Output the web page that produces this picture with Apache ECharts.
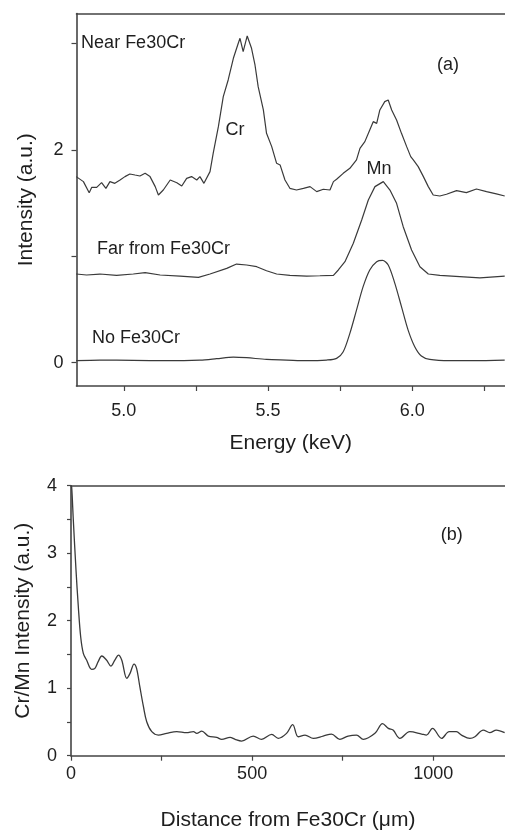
<!DOCTYPE html>
<html>
<head>
<meta charset="utf-8">
<script src="https://cdn.jsdelivr.net/npm/echarts@6/dist/echarts.min.js"></script>
<style>
html,body{margin:0;padding:0;background:#fff;}
#chart{width:505px;height:832px;}
</style>
</head>
<body>
<div id="chart"></div>
<script>
// ---- Panel (a): EDS spectra ----
const nearEnergy = [4.835,4.860,4.880,4.889,4.906,4.923,4.938,4.952,4.969,4.987,5.004,5.021,5.039,5.056,5.074,5.091,5.109,5.120,5.137,5.161,5.184,5.201,5.218,5.235,5.253,5.264,5.278,5.299,5.310,5.328,5.345,5.362,5.380,5.397,5.403,5.414,5.428,5.443,5.455,5.466,5.484,5.495,5.513,5.530,5.542,5.559,5.576,5.599,5.623,5.646,5.669,5.692,5.715,5.727,5.738,5.761,5.784,5.807,5.819,5.836,5.853,5.865,5.877,5.888,5.905,5.917,5.929,5.946,5.963,5.981,5.995,6.004,6.021,6.039,6.056,6.073,6.096,6.119,6.154,6.188,6.223,6.258,6.292,6.321];
const nearIntensity = [1.750,1.703,1.599,1.649,1.649,1.693,1.640,1.703,1.687,1.718,1.750,1.775,1.765,1.756,1.781,1.750,1.656,1.577,1.624,1.718,1.693,1.662,1.734,1.750,1.718,1.750,1.687,1.797,1.969,2.220,2.502,2.659,2.863,3.004,3.051,2.926,3.073,2.957,2.800,2.596,2.377,2.157,2.032,1.875,1.860,1.718,1.640,1.624,1.640,1.656,1.609,1.631,1.624,1.703,1.725,1.781,1.828,1.907,2.016,2.079,2.189,2.267,2.251,2.377,2.455,2.471,2.377,2.283,2.157,2.032,1.938,1.907,1.844,1.750,1.656,1.577,1.568,1.584,1.618,1.599,1.634,1.609,1.587,1.568];

const farEnergy = [4.835,4.871,4.917,4.975,5.033,5.074,5.126,5.195,5.259,5.299,5.357,5.391,5.426,5.461,5.495,5.530,5.576,5.634,5.680,5.727,5.744,5.767,5.796,5.825,5.848,5.871,5.900,5.923,5.946,5.969,5.998,6.027,6.056,6.096,6.165,6.235,6.321];
const farIntensity = [0.834,0.825,0.834,0.822,0.834,0.847,0.825,0.815,0.803,0.834,0.887,0.928,0.919,0.903,0.865,0.834,0.822,0.815,0.818,0.822,0.872,0.950,1.123,1.342,1.530,1.656,1.703,1.624,1.499,1.279,1.060,0.903,0.834,0.822,0.809,0.797,0.815];

const noEnergy = [4.835,4.917,5.033,5.149,5.264,5.322,5.380,5.426,5.495,5.565,5.634,5.703,5.738,5.761,5.784,5.807,5.830,5.853,5.877,5.897,5.917,5.940,5.963,5.986,6.009,6.032,6.061,6.131,6.212,6.321];
const noIntensity = [0.019,0.025,0.022,0.019,0.025,0.038,0.053,0.047,0.031,0.025,0.019,0.025,0.041,0.103,0.276,0.495,0.715,0.872,0.950,0.962,0.919,0.746,0.527,0.307,0.151,0.063,0.031,0.019,0.019,0.025];

const energyTicks = [5.0,5.25,5.5,5.75,6.0,6.25];
const energyLabels = [5.0,5.5,6.0];
const intensityTicks = [0,1,2,3];
const intensityLabels = [0,2];

// ---- Panel (b): Cr/Mn ratio profile ----
const distance = [0,1.8,6.4,13.8,20.2,26.7,34,43,57,66,75,85,98,110,121,131,140,154,163,174,181,190,200,209,223,241,264,292,319,338,347,361,379,402,416,439,453,471,503,526,554,572,595,612,627,646,669,696,719,742,765,788,807,839,860,876,889,908,935,968,981,998,1023,1044,1064,1078,1101,1115,1138,1156,1174,1197];
const ratio = [4.0,3.985,3.49,2.75,2.207,1.763,1.516,1.417,1.279,1.294,1.393,1.477,1.417,1.328,1.417,1.491,1.417,1.146,1.220,1.358,1.294,1.022,0.726,0.504,0.356,0.306,0.331,0.356,0.341,0.356,0.331,0.365,0.291,0.272,0.242,0.272,0.242,0.217,0.291,0.242,0.316,0.257,0.331,0.460,0.281,0.306,0.257,0.291,0.321,0.242,0.291,0.306,0.242,0.331,0.475,0.405,0.380,0.257,0.356,0.321,0.306,0.405,0.257,0.356,0.356,0.306,0.257,0.281,0.380,0.341,0.380,0.341];

// ---- Annotations ----
const annotA = [
  {text:'Near Fe30Cr', x:4.852, y:3.010, align:'left'},
  {text:'(a)', x:6.124, y:2.801, align:'center'},
  {text:'Cr', x:5.386, y:2.189, align:'center'},
  {text:'Mn', x:5.885, y:1.822, align:'center'},
  {text:'Far from Fe30Cr', x:4.907, y:1.070, align:'left'},
  {text:'No Fe30Cr', x:4.890, y:0.233, align:'left'}
];
const annotB = [
  {text:'(b)', x:1051, y:3.27, align:'center'}
];

const zip = (a,b) => a.map((v,i)=>[v,b[i]]);
const FONT = '"Liberation Sans", Arial, sans-serif';
const TXT = '#1e1e1e';
const AX = '#444';
const LINE = '#3a3a3a';

function frameAxis(grid, min, max){
  return {gridIndex:grid, type:'value', position:'top', min:min, max:max,
    axisLine:{show:true, onZero:false, lineStyle:{color:AX, width:1.6}},
    axisTick:{show:false}, axisLabel:{show:false}, splitLine:{show:false}};
}
function annotSeries(list, xi, yi){
  return {type:'scatter', xAxisIndex:xi, yAxisIndex:yi, symbolSize:0, silent:true,
    itemStyle:{opacity:1},
    data: list.map(a=>({value:[a.x,a.y], name:a.text,
      label:{show:true, position:'inside', align:a.align, verticalAlign:'middle', opacity:1,
        formatter:a.text, color:TXT, fontSize:18, fontFamily:FONT}})),
    z:5};
}

const chart = echarts.init(document.getElementById('chart'), null, {renderer:'canvas'});
chart.setOption({
  animation:false,
  backgroundColor:'#fff',
  textStyle:{fontFamily:FONT},
  grid:[
    {left:76.5, top:13.5, width:428.5, height:372.5},
    {left:71, top:485.7, width:434, height:270}
  ],
  xAxis:[
    {gridIndex:0, type:'value', min:4.836, max:6.322,
      axisLine:{show:true, onZero:false, lineStyle:{color:AX, width:1.6}},
      axisTick:{show:true, customValues:energyTicks, length:5, lineStyle:{color:AX, width:1.2}},
      axisLabel:{show:true, customValues:energyLabels, formatter:v=>Number(v).toFixed(1), color:TXT, fontSize:18, margin:16, fontFamily:FONT},
      splitLine:{show:false},
      name:'Energy (keV)', nameLocation:'middle', nameGap:47,
      nameTextStyle:{color:TXT, fontSize:21, fontFamily:FONT}},
    frameAxis(0, 4.836, 6.322),
    {gridIndex:1, type:'value', min:0, max:1198, interval:250,
      axisLine:{show:true, onZero:false, lineStyle:{color:AX, width:1.6}},
      axisTick:{show:true, length:5, lineStyle:{color:AX, width:1.2}},
      axisLabel:{show:true, formatter:v=>(v%500===0?String(v):''), color:TXT, fontSize:18, margin:9, fontFamily:FONT, showMaxLabel:false},
      splitLine:{show:false},
      name:'Distance from Fe30Cr (\u03bcm)', nameLocation:'middle', nameGap:54,
      nameTextStyle:{color:TXT, fontSize:21, fontFamily:FONT}},
    frameAxis(1, 0, 1198)
  ],
  yAxis:[
    {gridIndex:0, type:'value', min:-0.219, max:3.284,
      axisLine:{show:true, onZero:false, lineStyle:{color:AX, width:1.6}},
      axisTick:{show:true, customValues:intensityTicks, length:5, lineStyle:{color:AX, width:1.2}},
      axisLabel:{show:true, customValues:intensityLabels, color:TXT, fontSize:18, margin:13, fontFamily:FONT},
      splitLine:{show:false},
      name:'Intensity (a.u.)', nameLocation:'middle', nameGap:40, nameRotate:90,
      nameTextStyle:{color:TXT, fontSize:21, fontFamily:FONT}},
    {gridIndex:1, type:'value', min:0, max:4, interval:0.5,
      axisLine:{show:true, onZero:false, lineStyle:{color:AX, width:1.6}},
      axisTick:{show:true, length:4, lineStyle:{color:AX, width:1.2}},
      axisLabel:{show:true, formatter:v=>(Number.isInteger(v)?String(v):''), color:TXT, fontSize:18, margin:14, fontFamily:FONT},
      splitLine:{show:false},
      name:'Cr/Mn Intensity (a.u.)', nameLocation:'middle', nameGap:37, nameRotate:90,
      nameTextStyle:{color:TXT, fontSize:21, fontFamily:FONT}}
  ],
  series:[
    {type:'line', xAxisIndex:0, yAxisIndex:0, data:zip(nearEnergy,nearIntensity), showSymbol:false,
      lineStyle:{color:LINE, width:1.2}},
    {type:'line', xAxisIndex:0, yAxisIndex:0, data:zip(farEnergy,farIntensity), showSymbol:false,
      lineStyle:{color:LINE, width:1.2}},
    {type:'line', xAxisIndex:0, yAxisIndex:0, data:zip(noEnergy,noIntensity), showSymbol:false, smooth:0.3,
      lineStyle:{color:LINE, width:1.2}},
    {type:'line', xAxisIndex:2, yAxisIndex:1, data:zip(distance,ratio), showSymbol:false, smooth:0.35,
      lineStyle:{color:LINE, width:1.3}},
    annotSeries(annotA, 0, 0),
    annotSeries(annotB, 2, 1)
  ]
});
</script>
</body>
</html>
